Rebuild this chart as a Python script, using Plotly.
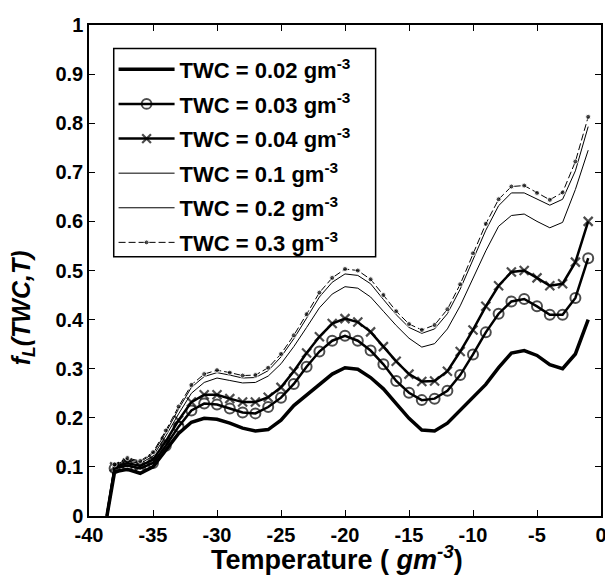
import plotly.graph_objects as go

# Temperature (deg C); first point is where all curves start at zero
temps = [-38.6] + list(range(-38, 0))

twc_labels = ["0.02", "0.03", "0.04", "0.1", "0.2", "0.3"]

f_002 = [0.0, 0.090, 0.095, 0.087, 0.100, 0.135, 0.168, 0.191, 0.199, 0.197, 0.189,
         0.179, 0.173, 0.176, 0.195, 0.225, 0.247, 0.269, 0.289, 0.302, 0.299,
         0.282, 0.259, 0.229, 0.199, 0.175, 0.173, 0.189, 0.215, 0.242, 0.268,
         0.302, 0.332, 0.337, 0.327, 0.308, 0.300, 0.330, 0.400]
f_003 = [0.0, 0.097, 0.103, 0.097, 0.108, 0.143, 0.182, 0.215, 0.229, 0.227, 0.219,
         0.211, 0.209, 0.222, 0.241, 0.269, 0.304, 0.335, 0.357, 0.367, 0.357,
         0.337, 0.309, 0.275, 0.251, 0.236, 0.239, 0.255, 0.287, 0.329, 0.374,
         0.412, 0.437, 0.442, 0.427, 0.410, 0.410, 0.444, 0.525]
f_004 = [0.0, 0.100, 0.108, 0.102, 0.115, 0.152, 0.195, 0.232, 0.247, 0.247, 0.239,
         0.232, 0.232, 0.242, 0.262, 0.295, 0.332, 0.365, 0.392, 0.402, 0.395,
         0.375, 0.345, 0.315, 0.289, 0.274, 0.275, 0.295, 0.335, 0.379, 0.427,
         0.469, 0.497, 0.500, 0.485, 0.469, 0.473, 0.517, 0.600]
f_01 = [0.0, 0.102, 0.112, 0.107, 0.122, 0.163, 0.208, 0.250, 0.272, 0.281, 0.276,
        0.271, 0.272, 0.285, 0.310, 0.345, 0.384, 0.424, 0.452, 0.467, 0.464,
        0.446, 0.417, 0.388, 0.362, 0.344, 0.351, 0.381, 0.428, 0.485, 0.540,
        0.590, 0.612, 0.615, 0.600, 0.587, 0.598, 0.665, 0.745]
f_02 = [0.0, 0.104, 0.115, 0.110, 0.127, 0.170, 0.218, 0.262, 0.284, 0.292, 0.287,
        0.281, 0.282, 0.296, 0.324, 0.361, 0.403, 0.446, 0.476, 0.493, 0.490,
        0.473, 0.441, 0.410, 0.384, 0.372, 0.381, 0.412, 0.462, 0.522, 0.582,
        0.632, 0.658, 0.658, 0.645, 0.633, 0.645, 0.703, 0.793]
f_03 = [0.0, 0.105, 0.118, 0.112, 0.130, 0.174, 0.223, 0.267, 0.289, 0.297, 0.292,
        0.286, 0.287, 0.302, 0.330, 0.368, 0.411, 0.455, 0.485, 0.503, 0.500,
        0.482, 0.450, 0.417, 0.391, 0.379, 0.389, 0.421, 0.472, 0.535, 0.595,
        0.645, 0.671, 0.673, 0.658, 0.644, 0.659, 0.722, 0.813]

x_ticks = [-40, -35, -30, -25, -20, -15, -10, -5, 0]
y_ticks = [0, 0.1, 0.2, 0.3, 0.4, 0.5, 0.6, 0.7, 0.8, 0.9, 1]
y_tick_text = ["0", "0.1", "0.2", "0.3", "0.4", "0.5", "0.6", "0.7", "0.8", "0.9", "1"]

FONT = "Liberation Sans, Arial, sans-serif"

def msizes(s):
    return [0] + [s] * (len(temps) - 1)

styles = [
    dict(line=dict(color="black", width=3.5), mode="lines", marker=None),
    dict(line=dict(color="black", width=2.5), mode="lines+markers",
         marker=dict(symbol="circle-open", size=msizes(10), color="black",
                     line=dict(width=2, color="black"))),
    dict(line=dict(color="black", width=2.5), mode="lines+markers",
         marker=dict(symbol="x-thin-open", size=msizes(9), color="black",
                     line=dict(width=2.2, color="black"))),
    dict(line=dict(color="black", width=1), mode="lines", marker=None),
    dict(line=dict(color="black", width=1), mode="lines", marker=None),
    dict(line=dict(color="black", width=1, dash="7px,3px"), mode="lines+markers",
         marker=dict(symbol="circle", size=msizes(5), color="black")),
]

series = [f_002, f_003, f_004, f_01, f_02, f_03]

fig = go.Figure()
for i, (lab, vals, st) in enumerate(zip(twc_labels, series, styles)):
    kw = dict(x=temps, y=vals, mode=st["mode"], line=st["line"],
              name="<b>TWC = " + lab + " gm<sup>-3</sup></b>",
              legendgroup="g" + str(i))
    if st["marker"] is not None:
        kw["marker"] = st["marker"]
    fig.add_trace(go.Scatter(**kw))

axis_common = dict(
    showline=True, linecolor="black", linewidth=1.5, mirror="ticks",
    ticks="inside", ticklen=6, tickwidth=1.2, tickcolor="black",
    showgrid=False, zeroline=False, ticklabeloverflow="allow",
    tickfont=dict(family=FONT, size=20, color="black"),
)

# page body has an 8px margin, so the figure is 8px smaller than the window
fig.update_layout(
    width=605, height=575,
    margin=dict(l=81, r=6, t=8, b=67),
    paper_bgcolor="white", plot_bgcolor="white",
    font=dict(family=FONT, color="black"),
    xaxis=dict(range=[-40, 0], tickvals=x_ticks,
               ticktext=["<b>" + str(v) + "</b>" for v in x_ticks],
               **axis_common),
    yaxis=dict(range=[0, 1], tickvals=y_ticks,
               ticktext=["<b>" + t + "</b>" for t in y_tick_text],
               **axis_common),
    annotations=[
        dict(text="<b><i>f<sub>L</sub>(TWC,T)</i></b>",
             xref="paper", yref="paper", x=-0.129, y=0.425,
             xanchor="center", yanchor="middle", textangle=-90,
             showarrow=False, font=dict(family=FONT, size=25, color="black")),
        dict(text="<b>Temperature ( <i>gm<sup>-3</sup></i>)</b>",
             xref="paper", yref="paper", x=0.4846, y=-0.086,
             xanchor="center", yanchor="middle",
             showarrow=False, font=dict(family=FONT, size=27, color="black")),
    ],
    shapes=[dict(type="rect", xref="paper", yref="paper",
                 x0=0.0483, x1=0.5598, y0=0.528, y1=0.952,
                 line=dict(color="black", width=1.5), fillcolor="white",
                 layer="below")],
    legend=dict(x=0.048, y=0.952, xanchor="left", yanchor="top",
                bgcolor="rgba(0,0,0,0)", borderwidth=0,
                font=dict(family=FONT, size=22, color="black"),
                tracegroupgap=3, itemwidth=56),
    showlegend=True,
)

fig.write_html("out.html")
